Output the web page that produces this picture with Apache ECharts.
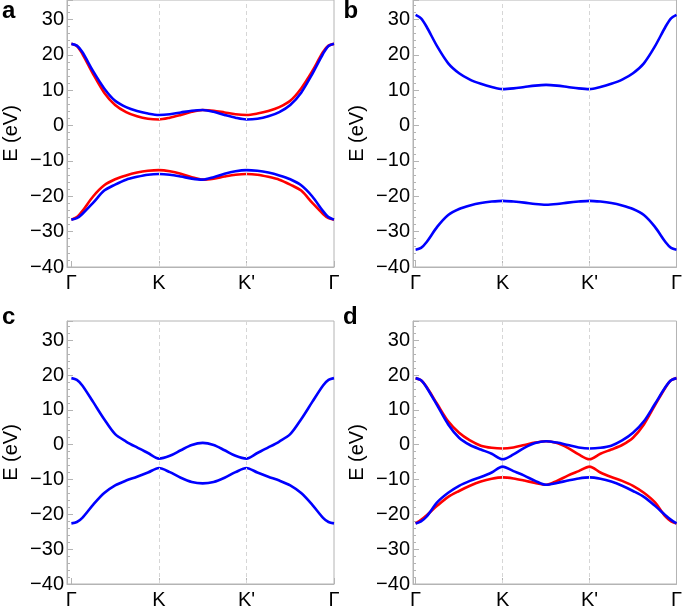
<!DOCTYPE html>
<html>
<head>
<meta charset="utf-8">
<script src="https://cdn.jsdelivr.net/npm/echarts@6/dist/echarts.min.js"></script>
<style>html,body{margin:0;padding:0;background:#fff;}#c{width:685px;height:610px;}</style>
</head>
<body>
<div id="c"></div>
<script>
// k-path positions (Γ=0, K=1, K'=2, Γ=3)
const kPath = [0, 0.0625, 0.125, 0.25, 0.375, 0.5, 0.625, 0.75, 0.875, 1, 1.125, 1.25, 1.375, 1.5,
               1.625, 1.75, 1.875, 2, 2.125, 2.25, 2.375, 2.5, 2.625, 2.75, 2.875, 2.9375, 3];
const kTicks = [0, 1, 2, 3];
const kLabels = ['Γ', 'K', "K'", 'Γ'];
const panelLetters = ['a', 'b', 'c', 'd'];

// Panel a
const aRedUp   = [23.1, 22.5, 20.3, 14.5, 9.3, 5.8, 3.8, 2.6, 1.9, 1.7, 2.2, 3.0, 3.9, 4.4, 4.2, 3.7, 3.2, 3.0, 3.4, 4.1, 5.2, 7.0, 10.5, 15.3, 20.8, 22.6, 23.1];
const aBlueUp  = [23.1, 22.6, 20.8, 15.3, 10.5, 7.0, 5.2, 4.1, 3.4, 3.0, 3.2, 3.7, 4.2, 4.4, 3.9, 3.0, 2.2, 1.7, 1.9, 2.6, 3.8, 5.8, 9.3, 14.5, 20.3, 22.5, 23.1];
const aRedLow  = [-26.6, -25.9, -24.2, -20.0, -16.9, -15.2, -14.1, -13.3, -12.8, -12.6, -12.9, -13.6, -14.6, -15.3, -15.0, -14.4, -13.9, -13.7, -13.9, -14.5, -15.3, -16.7, -18.4, -21.8, -25.0, -26.2, -26.6];
const aBlueLow = [-26.6, -26.2, -25.0, -21.8, -18.4, -16.7, -15.3, -14.5, -13.9, -13.7, -13.9, -14.4, -15.0, -15.3, -14.6, -13.6, -12.9, -12.6, -12.8, -13.3, -14.1, -15.2, -16.9, -20.0, -24.2, -25.9, -26.6];

// Panel b
const bBlueUp  = [31.3, 30.3, 28.0, 22.3, 17.6, 14.8, 13.0, 11.8, 10.9, 10.3, 10.5, 10.9, 11.3, 11.5, 11.3, 10.9, 10.5, 10.3, 10.9, 11.8, 13.0, 14.8, 17.6, 22.3, 28.0, 30.3, 31.3];
const bBlueLow = [-35.1, -34.6, -33.0, -28.6, -25.3, -23.6, -22.6, -21.9, -21.5, -21.3, -21.5, -21.8, -22.2, -22.4, -22.2, -21.8, -21.5, -21.3, -21.5, -21.9, -22.6, -23.6, -25.3, -28.6, -33.0, -34.6, -35.1];

// Panel c
const cBlueUp  = [19.1, 18.6, 17.0, 12.2, 7.3, 3.0, 0.9, -0.8, -2.4, -4.0, -3.2, -1.6, -0.1, 0.5, -0.1, -1.6, -3.2, -4.0, -2.4, -0.8, 0.9, 3.0, 7.3, 12.2, 17.0, 18.6, 19.1];
const cBlueLow = [-22.6, -22.2, -21.0, -17.2, -13.9, -11.7, -10.3, -9.2, -8.0, -6.7, -7.9, -9.5, -10.7, -11.1, -10.7, -9.5, -7.9, -6.7, -8.0, -9.2, -10.3, -11.7, -13.9, -17.2, -21.0, -22.2, -22.6];

// Panel d
const dRedUp   = [19.1, 18.5, 16.6, 11.6, 6.7, 3.4, 1.2, -0.3, -0.9, -1.1, -0.8, -0.1, 0.6, 1.0, 0.5, -0.9, -2.8, -4.2, -2.6, -1.4, -0.1, 2.0, 5.8, 11.2, 16.5, 18.5, 19.1];
const dBlueUp  = [19.1, 18.5, 16.5, 11.2, 5.8, 2.0, -0.1, -1.4, -2.6, -4.2, -2.8, -0.9, 0.5, 1.0, 0.6, -0.1, -0.8, -1.1, -0.9, -0.3, 1.2, 3.4, 6.7, 11.6, 16.6, 18.5, 19.1];
const dRedLow  = [-22.6, -21.6, -20.3, -17.5, -15.0, -13.3, -11.8, -10.6, -9.8, -9.4, -9.7, -10.3, -11.0, -11.5, -10.4, -8.9, -7.6, -6.3, -8.0, -9.3, -10.4, -11.8, -13.8, -16.5, -20.7, -22.0, -22.6];
const dBlueLow = [-22.6, -22.0, -20.7, -16.5, -13.8, -11.8, -10.4, -9.3, -8.0, -6.3, -7.6, -8.9, -10.4, -11.5, -11.0, -10.3, -9.7, -9.4, -9.8, -10.6, -11.8, -13.3, -15.0, -17.5, -20.3, -21.6, -22.6];

const RED = '#ff0000', BLUE = '#0000ff';
const panels = [
  [[aRedUp, RED], [aRedLow, RED], [aBlueUp, BLUE], [aBlueLow, BLUE]],
  [[bBlueUp, BLUE], [bBlueLow, BLUE]],
  [[cBlueUp, BLUE], [cBlueLow, BLUE]],
  [[dRedUp, RED], [dRedLow, RED], [dBlueUp, BLUE], [dBlueLow, BLUE]]
];

const FONT = 'Liberation Sans, Arial, sans-serif';
const FRAME = '#b4b4b4';
const grids = [
  {left: 66, top: 0, width: 268, height: 267},
  {left: 413, top: 0, width: 266, height: 267},
  {left: 66, top: 321, width: 268, height: 265.5},
  {left: 413, top: 321, width: 266, height: 265.5}
];
const xMins = [-0.05, -0.03, -0.05, -0.03];
const letterPos = [[2, -1], [343.5, -1], [2, 305], [343, 305]];

const option = {
  animation: false,
  backgroundColor: '#fff',
  title: panelLetters.map((t, i) => ({
    text: t, left: letterPos[i][0], top: letterPos[i][1], padding: 0,
    textStyle: {fontSize: 24, fontWeight: 'bold', fontFamily: FONT, color: '#000'}
  })),
  grid: grids.map(g => Object.assign({show: true, borderColor: FRAME, borderWidth: 1, backgroundColor: 'transparent'}, g)),
  xAxis: grids.map((g, i) => ({
    type: 'value', gridIndex: i, min: xMins[i], max: 3,
    axisLine: {show: true, onZero: false, lineStyle: {color: FRAME, width: 1}},
    axisTick: {show: true, inside: true, length: 6, customValues: kTicks, lineStyle: {color: FRAME}},
    axisLabel: {show: true, customValues: kTicks, margin: 6, fontSize: 20, fontFamily: FONT, color: '#000',
      formatter: v => kLabels[Math.round(v)]},
    splitLine: {show: false}
  })),
  yAxis: grids.map((g, i) => ({
    type: 'value', gridIndex: i, min: -40, max: 35.5, interval: 10,
    name: 'E (eV)', nameLocation: 'middle', nameGap: 46,
    nameTextStyle: {fontSize: 20, fontFamily: FONT, color: '#000'},
    axisLine: {show: true, onZero: false, lineStyle: {color: FRAME, width: 1}},
    axisTick: {show: true, inside: true, length: 6, lineStyle: {color: FRAME}},
    minorTick: {show: true, splitNumber: 5, length: 3, lineStyle: {color: FRAME}},
    axisLabel: {show: true, margin: 3, fontSize: 20, fontFamily: FONT, color: '#000', showMaxLabel: false,
      formatter: v => (v < 0 ? '\u2212' + Math.abs(v) : String(v))},
    splitLine: {show: false}
  })),
  series: []
};

panels.forEach((curves, i) => {
  option.series.push({
    type: 'line', xAxisIndex: i, yAxisIndex: i, data: [], z: 1, silent: true,
    markLine: {
      silent: true, symbol: ['none', 'none'], label: {show: false},
      lineStyle: {color: '#d6d6d6', type: [4, 3], width: 1},
      data: [{xAxis: 1}, {xAxis: 2}]
    }
  });
  curves.forEach(([vals, color]) => {
    option.series.push({
      type: 'line', xAxisIndex: i, yAxisIndex: i, showSymbol: false, smooth: 0.3, z: 3,
      lineStyle: {color: color, width: 2.6}, itemStyle: {color: color},
      data: kPath.map((k, j) => [k, vals[j]])
    });
  });
});

const chart = echarts.init(document.getElementById('c'), null, {renderer: 'canvas'});
chart.setOption(option);
</script>
</body>
</html>
